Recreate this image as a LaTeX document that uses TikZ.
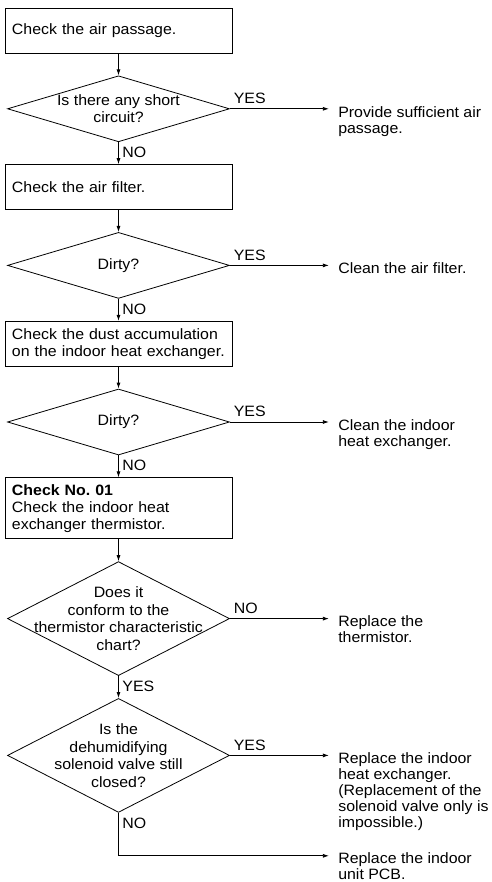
\documentclass[tikz,border=0pt]{standalone}
\usepackage{fontspec}
\setmainfont[FakeStretch=1.06]{Liberation Sans}
\usetikzlibrary{shapes.geometric, arrows.meta, positioning}

\begin{document}
\begin{tikzpicture}[
  x=1pt, y=1pt,
  font=\fontsize{15}{17}\selectfont,
  line width=0.8pt,
  node distance=22pt,
  box/.style={rectangle, draw, text width=213pt, inner xsep=7pt, inner ysep=0pt, minimum height=45pt, align=left},
  decision/.style={diamond, draw, minimum width=222pt, minimum height=66pt, inner sep=0pt},
  tall/.style={minimum height=114pt},
  qtext/.style={align=center, inner sep=0pt, font=\fontsize{15}{17.5}\selectfont},
  action/.style={align=left, inner xsep=9pt, inner ysep=0pt, font=\fontsize{15}{16}\selectfont},
  tag/.style={inner xsep=3.5pt, inner ysep=4.5pt},
  arr/.style={-{Latex[length=6pt,width=4pt]}}
]
\useasboundingbox (0,0) rectangle (491,-882);

% main column
\node[box] (b1) at (118.5,-30.5) {Check the air passage.};
\node[decision, below=of b1, label={[qtext]center:{Is there any short\\circuit?}}] (d1) {};
\node[box, below=of d1] (b2) {Check the air filter.};
\node[decision, below=of b2, label={[qtext]center:{Dirty?}}] (d2) {};
\node[box, below=of d2] (b3) {Check the dust accumulation\\on the indoor heat exchanger.};
\node[decision, below=of b3, label={[qtext]center:{Dirty?}}] (d3) {};
\node[box, below=of d3, minimum height=61pt] (b4) {\textbf{Check No.\ 01}\\Check the indoor heat\\exchanger thermistor.};
\node[decision, tall, below=of b4, label={[qtext]center:{Does it\\conform to the\\thermistor characteristic\\chart?}}] (d4) {};
\node[decision, tall, below=of d4, label={[qtext]center:{Is the\\dehumidifying\\solenoid valve still\\closed?}}] (d5) {};
\coordinate[below=43pt of d5.south] (bend);

% remedies on the right
\node[action, right=99pt of d1.east, anchor=north west, yshift=3pt] (r1) {Provide sufficient air\\passage.};
\node[action, right=99pt of d2.east, anchor=north west, yshift=3pt] (r2) {Clean the air filter.};
\node[action, right=99pt of d3.east, anchor=north west, yshift=3pt] (r3) {Clean the indoor\\heat exchanger.};
\node[action, right=99pt of d4.east, anchor=north west, yshift=3pt] (r4) {Replace the\\thermistor.};
\node[action, right=99pt of d5.east, anchor=north west, yshift=3pt] (r5) {Replace the indoor\\heat exchanger.\\(Replacement of the\\solenoid valve only is\\impossible.)};
\node[action, anchor=north west, yshift=4pt] (r6) at (bend -| r5.west) {Replace the indoor\\unit PCB.};

% flow down
\draw[arr] (b1) -- (d1);
\draw[arr] (d1) -- node[tag, anchor=north west, pos=0] (no1) {NO} (b2);
\draw[arr] (b2) -- (d2);
\draw[arr] (d2) -- node[tag, anchor=north west, pos=0] (no2) {NO} (b3);
\draw[arr] (b3) -- (d3);
\draw[arr] (d3) -- node[tag, anchor=north west, pos=0] (no3) {NO} (b4);
\draw[arr] (b4) -- (d4);
\draw[arr] (d4) -- node[tag, anchor=north west, pos=0] (yes4) {YES} (d5);
\draw[arr] (d5.south) |- node[tag, anchor=north west, pos=0] (no5) {NO} (bend -| r6.west);

% branches to the right
\draw[arr] (d1.east) -- node[tag, anchor=south west, pos=0] (yes1) {YES} (d1.east -| r1.west);
\draw[arr] (d2.east) -- node[tag, anchor=south west, pos=0] (yes2) {YES} (d2.east -| r2.west);
\draw[arr] (d3.east) -- node[tag, anchor=south west, pos=0] (yes3) {YES} (d3.east -| r3.west);
\draw[arr] (d4.east) -- node[tag, anchor=south west, pos=0] (no4) {NO} (d4.east -| r4.west);
\draw[arr] (d5.east) -- node[tag, anchor=south west, pos=0] (yes5) {YES} (d5.east -| r5.west);
\end{tikzpicture}
\end{document}
